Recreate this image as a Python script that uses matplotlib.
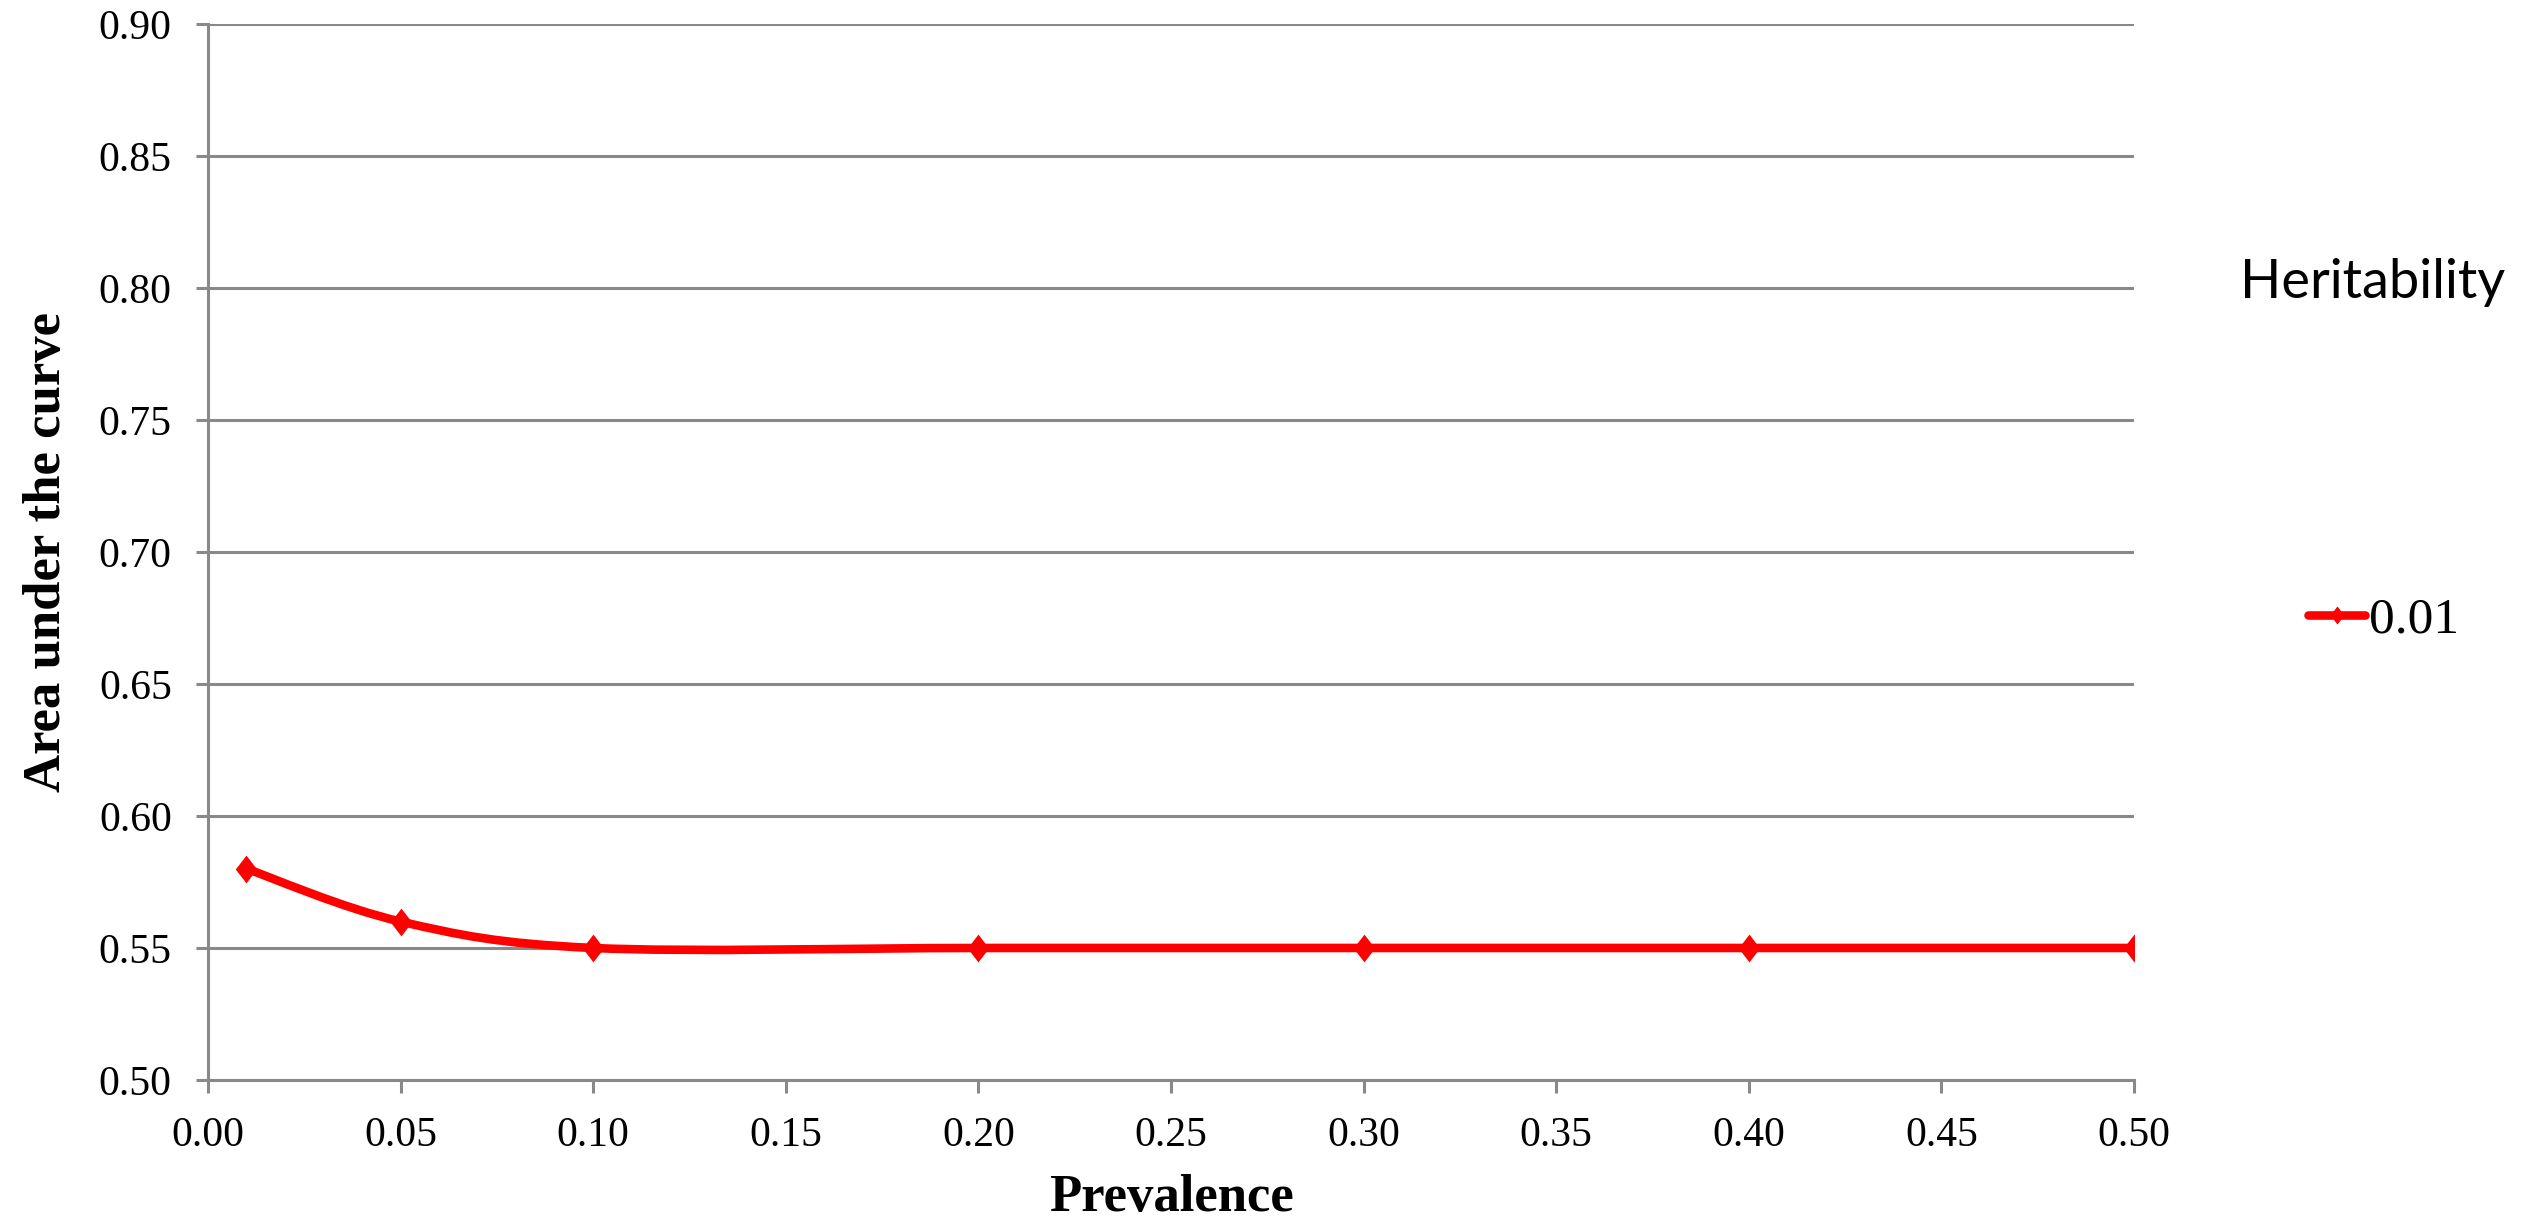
import matplotlib
matplotlib.use("Agg")
import matplotlib.pyplot as plt
from matplotlib.path import Path
from matplotlib.patches import PathPatch
from matplotlib.lines import Line2D

# Datos
prevalencia = [0.01, 0.05, 0.10, 0.20, 0.30, 0.40, 0.50]
auc = [0.58, 0.56, 0.55, 0.55, 0.55, 0.55, 0.55]
serie = "0.01"
titulo_leyenda = "Heritability"

x_ticks = [0.00, 0.05, 0.10, 0.15, 0.20, 0.25, 0.30, 0.35, 0.40, 0.45, 0.50]
y_ticks = [0.50, 0.55, 0.60, 0.65, 0.70, 0.75, 0.80, 0.85, 0.90]

rojo = "#ff0000"
gris = "#898989"

# Rombo algo mas alto que ancho (como el de Excel)
rombo = Path([(0, 1), (0.77, 0), (0, -1), (-0.77, 0), (0, 1)],
             [Path.MOVETO, Path.LINETO, Path.LINETO, Path.LINETO, Path.CLOSEPOLY])

fig = plt.figure(figsize=(25.27, 12.17), dpi=100)
ax = fig.add_axes([0.0823, 0.1126, 0.7622, 0.8677])

# Linea suavizada tipo Excel (bezier entre puntos)
pts = list(zip(prevalencia, auc))
verts = [pts[0]]
codes = [Path.MOVETO]
n = len(pts)
for i in range(n - 1):
    p0 = pts[max(i - 1, 0)]
    p1 = pts[i]
    p2 = pts[i + 1]
    p3 = pts[min(i + 2, n - 1)]
    c1 = (p1[0] + (p2[0] - p0[0]) / 6, p1[1] + (p2[1] - p0[1]) / 6)
    c2 = (p2[0] - (p3[0] - p1[0]) / 6, p2[1] - (p3[1] - p1[1]) / 6)
    verts += [c1, c2, p2]
    codes += [Path.CURVE4, Path.CURVE4, Path.CURVE4]

curva = PathPatch(Path(verts, codes), fill=False, edgecolor=rojo,
                  linewidth=6.2, capstyle="round", joinstyle="round", zorder=3)
ax.add_patch(curva)
ax.plot(prevalencia, auc, linestyle="none", marker=rombo, markersize=20,
        color=rojo, markeredgewidth=0, zorder=4)

ax.set_xlim(0, 0.5)
ax.set_ylim(0.5, 0.9)
ax.set_xticks(x_ticks)
ax.set_yticks(y_ticks)
ax.set_xticklabels([f"{v:.2f}" for v in x_ticks])
ax.set_yticklabels([f"{v:.2f}" for v in y_ticks])

ax.grid(axis="y", color=gris, linewidth=2.2)
ax.set_axisbelow(True)
for s in ["top", "right"]:
    ax.spines[s].set_visible(False)
for s in ["left", "bottom"]:
    ax.spines[s].set_color(gris)
    ax.spines[s].set_linewidth(2.2)

ax.tick_params(axis="both", direction="out", length=9, width=2.2, color=gris,
               labelsize=30, pad=17)
for lab in ax.get_xticklabels() + ax.get_yticklabels():
    lab.set_fontfamily("Liberation Serif")

ax.set_xlabel("Prevalence", fontsize=38, fontweight="bold",
              fontfamily="Liberation Serif", labelpad=14)
ax.set_ylabel("Area under the curve", fontsize=38, fontweight="bold",
              fontfamily="Liberation Serif", labelpad=20)

# Leyenda
fig.text(0.8866, 0.768, titulo_leyenda, fontsize=39, fontfamily="Lato",
         va="center", ha="left")
mano = Line2D([], [], color=rojo, linewidth=6.2, marker=rombo, markersize=13,
              markeredgewidth=0, solid_capstyle="round")
fig.legend([mano], [serie], loc="center left", bbox_to_anchor=(0.9135, 0.4905),
           frameon=False, handlelength=1.1, handletextpad=0.08,
           borderpad=0, borderaxespad=0,
           prop={"family": "Liberation Serif", "size": 37})

plt.savefig("out.png", dpi=100)
plt.close()
